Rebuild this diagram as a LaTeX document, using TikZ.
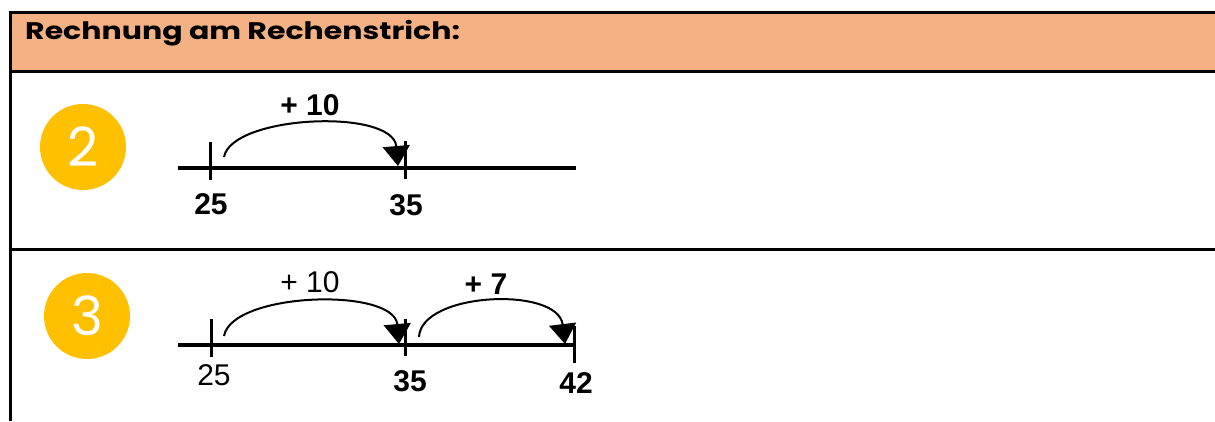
\documentclass[tikz,border=0pt]{standalone}
\usepackage{fontspec}
\setmainfont{Liberation Sans}
\newfontfamily\headfont{Poppins}
\newfontfamily\titlefont[FakeStretch=1.25]{Poppins}
\usetikzlibrary{arrows.meta}
\definecolor{headfill}{HTML}{F4B183}
\definecolor{badgecol}{HTML}{FFC000}
\begin{document}
\begin{tikzpicture}[x=1pt,y=-1pt,
  rule/.style={line width=3pt},
  numline/.style={line width=3.3pt},
  tick/.style={line width=3pt},
  jump/.style={line width=2pt,-{Triangle[length=20pt,width=27pt]}},
  badge/.style={circle,fill=badgecol,minimum size=86pt,inner sep=0pt,
    font=\headfont\fontsize{54}{54}\selectfont,text=white},
  numb/.style={inner sep=0pt,font=\fontsize{30}{30}\selectfont\bfseries},
  numr/.style={inner sep=0pt,font=\fontsize{30}{30}\selectfont},
]
\useasboundingbox (0,0) rectangle (1215,421);
% table
\fill[headfill] (10,12) rectangle (1215,71);
\draw[rule] (1215,12) -- (10,12) -- (10,421);
\draw[rule] (10,71) -- (1215,71);
\draw[rule] (10,249) -- (1215,249);
\node[anchor=base west,inner sep=0pt,font=\titlefont\bfseries\fontsize{24}{28}\selectfont] (title) at (25,39) {Rechnung am Rechenstrich:};

% row 2
\node[badge] (b2) at (83,147) {2};
\coordinate (l1s) at (178,168);
\coordinate (l1e) at (576,168);
\draw[numline] (l1s) -- (l1e);
\draw[tick] (210,142) -- (210,180);
\draw[tick] (405,141) -- (405,179);
\coordinate (a1s) at (224,157);
\coordinate (a1e) at (398,166);
\draw[jump] (a1s) .. controls (232,115) and (393,108) .. (a1e);
\node[numb] (p1) at (310,105) {+ 10};
\node[numb] (n25a) at (211,204) {25};
\node[numb] (n35a) at (406,205) {35};

% row 3
\node[badge] (b3) at (87,316) {3};
\coordinate (l2s) at (178,345);
\coordinate (l2e) at (574,345);
\draw[numline] (l2s) -- (l2e);
\draw[tick] (211,319) -- (211,357);
\draw[tick] (405,319) -- (405,356);
\draw[tick] (574,326) -- (574,363);
\coordinate (a2s) at (224,336);
\coordinate (a2e) at (399,344);
\draw[jump] (a2s) .. controls (232,292) and (394,287) .. (a2e);
\coordinate (a3s) at (419,337);
\coordinate (a3e) at (565,344);
\draw[jump] (a3s) .. controls (421,292) and (558,286) .. (a3e);
\node[numr] (p2) at (310,282) {+ 10};
\node[numb] (p3) at (486,284) {+ 7};
\node[numr] (n25b) at (214,375) {25};
\node[numb] (n35b) at (410,381) {35};
\node[numb] (n42b) at (576,383) {42};
\end{tikzpicture}
\end{document}
